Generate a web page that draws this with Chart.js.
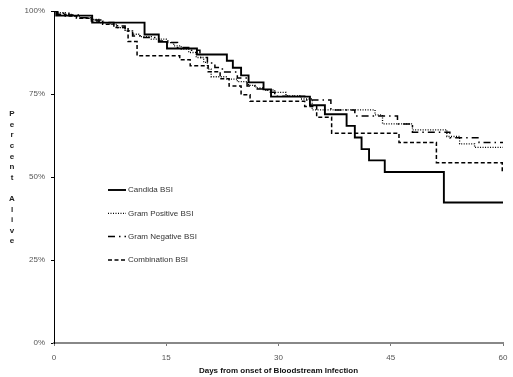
<!DOCTYPE html>
<html>
<head>
<meta charset="utf-8">
<script src="https://cdn.jsdelivr.net/npm/chart.js@4.4.1/dist/chart.umd.min.js"></script>
<style>
  html, body { margin: 0; padding: 0; background: #ffffff; }
  #wrap { width: 513px; height: 377px; position: relative; }
</style>
</head>
<body>
<div id="wrap"><canvas id="c" width="513" height="377"></canvas></div>
<script>
// ---- data ----
const xTicks = [0, 15, 30, 45, 60];
const yTicks = [0, 25, 50, 75, 100];
const seriesNames = ["Candida BSI", "Gram Positive BSI", "Gram Negative BSI", "Combination BSI"];

const candidaDays = [0, 0.3, 5.1, 12.1, 14.0, 15.1, 19.1, 23.1, 23.9, 25.0, 26.0, 28.0, 29.0, 34.2, 36.2, 39.1, 40.2, 41.1, 42.1, 44.2, 52.1, 60];
const candidaSurv = [100, 98.6, 96.5, 92.9, 90.7, 88.7, 86.9, 85.0, 82.9, 80.6, 78.5, 76.4, 74.2, 71.6, 68.9, 65.4, 61.9, 58.4, 55.0, 51.5, 42.3, 42.3];

const gramPosDays = [0, 0.5, 1.5, 2.5, 3.5, 5, 6, 7.5, 8.5, 9.5, 10.5, 11.5, 13, 15, 16, 17, 18, 19, 20, 20.5, 21, 23.1, 24.5, 26, 27, 28, 29.5, 31, 33, 34.5, 42.9, 43.9, 47.9, 52.5, 54.2, 56.2, 60];
const gramPosSurv = [100, 99.5, 99, 98.5, 98, 97.5, 96.5, 96, 95, 94, 93, 92.3, 91.5, 90.5, 89.5, 88.5, 87.5, 86, 84.5, 82.5, 80.2, 79.5, 78.7, 77.6, 76.8, 76.2, 75.5, 74.5, 73.5, 70.2, 68.7, 66.0, 64.2, 62.2, 60.0, 58.9, 58.9];

const gramNegDays = [0, 0.5, 2, 3.5, 5, 6.5, 8, 9.5, 10.5, 12, 14, 15.5, 16.5, 18, 19.5, 20.5, 21.5, 22.5, 24.5, 25.8, 27, 28.5, 29.5, 33.5, 37.0, 40.2, 45.9, 47.9, 52.9, 56.8, 60];
const gramNegSurv = [100, 99.3, 98.8, 98, 97.3, 96.5, 95.5, 94, 92.5, 92, 91, 90.5, 89, 88.2, 86, 84.3, 83, 81.6, 79.8, 77.4, 76.5, 75.5, 74.3, 73.2, 70.2, 68.4, 66.0, 63.5, 61.8, 60.4, 60.4];

const comboDays = [0, 0.5, 1.5, 3, 5, 6.5, 8, 9.9, 11.1, 16.8, 18.2, 20.6, 22.2, 23.4, 25.0, 26.2, 33.5, 35.1, 37.1, 46.1, 51.1, 59.9, 60];
const comboSurv = [100, 99, 98.5, 97.8, 97, 96, 95, 90.8, 86.5, 85.3, 83.5, 81.7, 79.6, 77.4, 74.8, 72.8, 71.2, 68.0, 63.2, 60.4, 54.3, 51.2, 51.2];

const yTitle = "Percent Alive";
const xTitle = "Days from onset of Bloodstream Infection";

function pts(days, surv) { return days.map((d, i) => ({ x: d, y: surv[i] })); }

Chart.defaults.font.family = "'Liberation Sans', Arial, sans-serif";
Chart.defaults.font.size = 8;

const legendPlugin = {
  id: 'kmLegend',
  afterDatasetsDraw(chart) {
    const ctx = chart.ctx;
    const x0 = 108, x1 = 126, tx = 128, y0 = 190, dy = 23.3;
    ctx.save();
    chart.data.datasets.forEach((ds, i) => {
      const y = y0 + i * dy;
      ctx.beginPath();
      ctx.setLineDash(ds.borderDash || []);
      ctx.lineWidth = ds.borderWidth;
      ctx.strokeStyle = ds.borderColor;
      ctx.moveTo(x0, y); ctx.lineTo(x1, y);
      ctx.stroke();
      ctx.setLineDash([]);
      ctx.fillStyle = '#333';
      ctx.font = "8px 'Liberation Sans', Arial, sans-serif";
      ctx.textAlign = 'left';
      ctx.textBaseline = 'middle';
      ctx.fillText(ds.label, tx, y);
    });
    ctx.restore();
  }
};

const yTitlePlugin = {
  id: 'stackedYTitle',
  afterDraw(chart) {
    const ctx = chart.ctx;
    ctx.save();
    ctx.fillStyle = '#222';
    ctx.font = "bold 8px 'Liberation Sans', Arial, sans-serif";
    ctx.textAlign = 'center';
    ctx.textBaseline = 'middle';
    const chars = Array.from(yTitle);
    const step = 10.6, yStart = 114;
    chars.forEach((ch, i) => {
      if (ch !== ' ') ctx.fillText(ch, 12, yStart + i * step);
    });
    ctx.restore();
  }
};

new Chart(document.getElementById('c'), {
  type: 'line',
  data: {
    datasets: [
      { label: seriesNames[0], data: pts(candidaDays, candidaSurv), borderColor: '#000', borderWidth: 1.9, borderDash: [], stepped: 'before', pointRadius: 0, fill: false },
      { label: seriesNames[1], data: pts(gramPosDays, gramPosSurv), borderColor: '#000', borderWidth: 1.3, borderDash: [1, 1.5], stepped: 'before', pointRadius: 0, fill: false },
      { label: seriesNames[2], data: pts(gramNegDays, gramNegSurv), borderColor: '#000', borderWidth: 1.5, borderDash: [7, 4, 1.5, 4], stepped: 'before', pointRadius: 0, fill: false },
      { label: seriesNames[3], data: pts(comboDays, comboSurv), borderColor: '#000', borderWidth: 1.5, borderDash: [4, 2.5], stepped: 'before', pointRadius: 0, fill: false }
    ]
  },
  options: {
    responsive: false,
    animation: false,
    layout: { padding: { left: 0, right: 10, top: 11, bottom: 0 } },
    plugins: { legend: { display: false }, tooltip: { enabled: false } },
    scales: {
      x: {
        type: 'linear', min: 0, max: 60,
        afterBuildTicks(s) { s.ticks = xTicks.map(v => ({ value: v })); },
        afterFit(s) { s.height = 34; s.paddingRight = 0; s.paddingLeft = 0; },
        grid: { drawOnChartArea: false, drawTicks: true, tickLength: 3, color: '#777', tickWidth: 1 },
        border: { display: true, color: '#888', width: 2 },
        ticks: { color: '#555', padding: 7, maxRotation: 0, font: { size: 8 } },
        title: { display: true, text: xTitle, color: '#111', font: { size: 8, weight: 'bold' }, padding: { top: 0, bottom: 1 } }
      },
      y: {
        type: 'linear', min: 0, max: 100,
        afterBuildTicks(s) { s.ticks = yTicks.map(v => ({ value: v })); },
        afterFit(s) { s.width = 54; s.paddingTop = 0; s.paddingBottom = 0; },
        grid: { drawOnChartArea: false, drawTicks: true, tickLength: 3, color: '#000' },
        border: { display: true, color: '#000', width: 1 },
        ticks: { color: '#555', padding: 6, font: { size: 8 }, callback: v => v + '%' }
      }
    }
  },
  plugins: [legendPlugin, yTitlePlugin]
});
</script>
</body>
</html>
